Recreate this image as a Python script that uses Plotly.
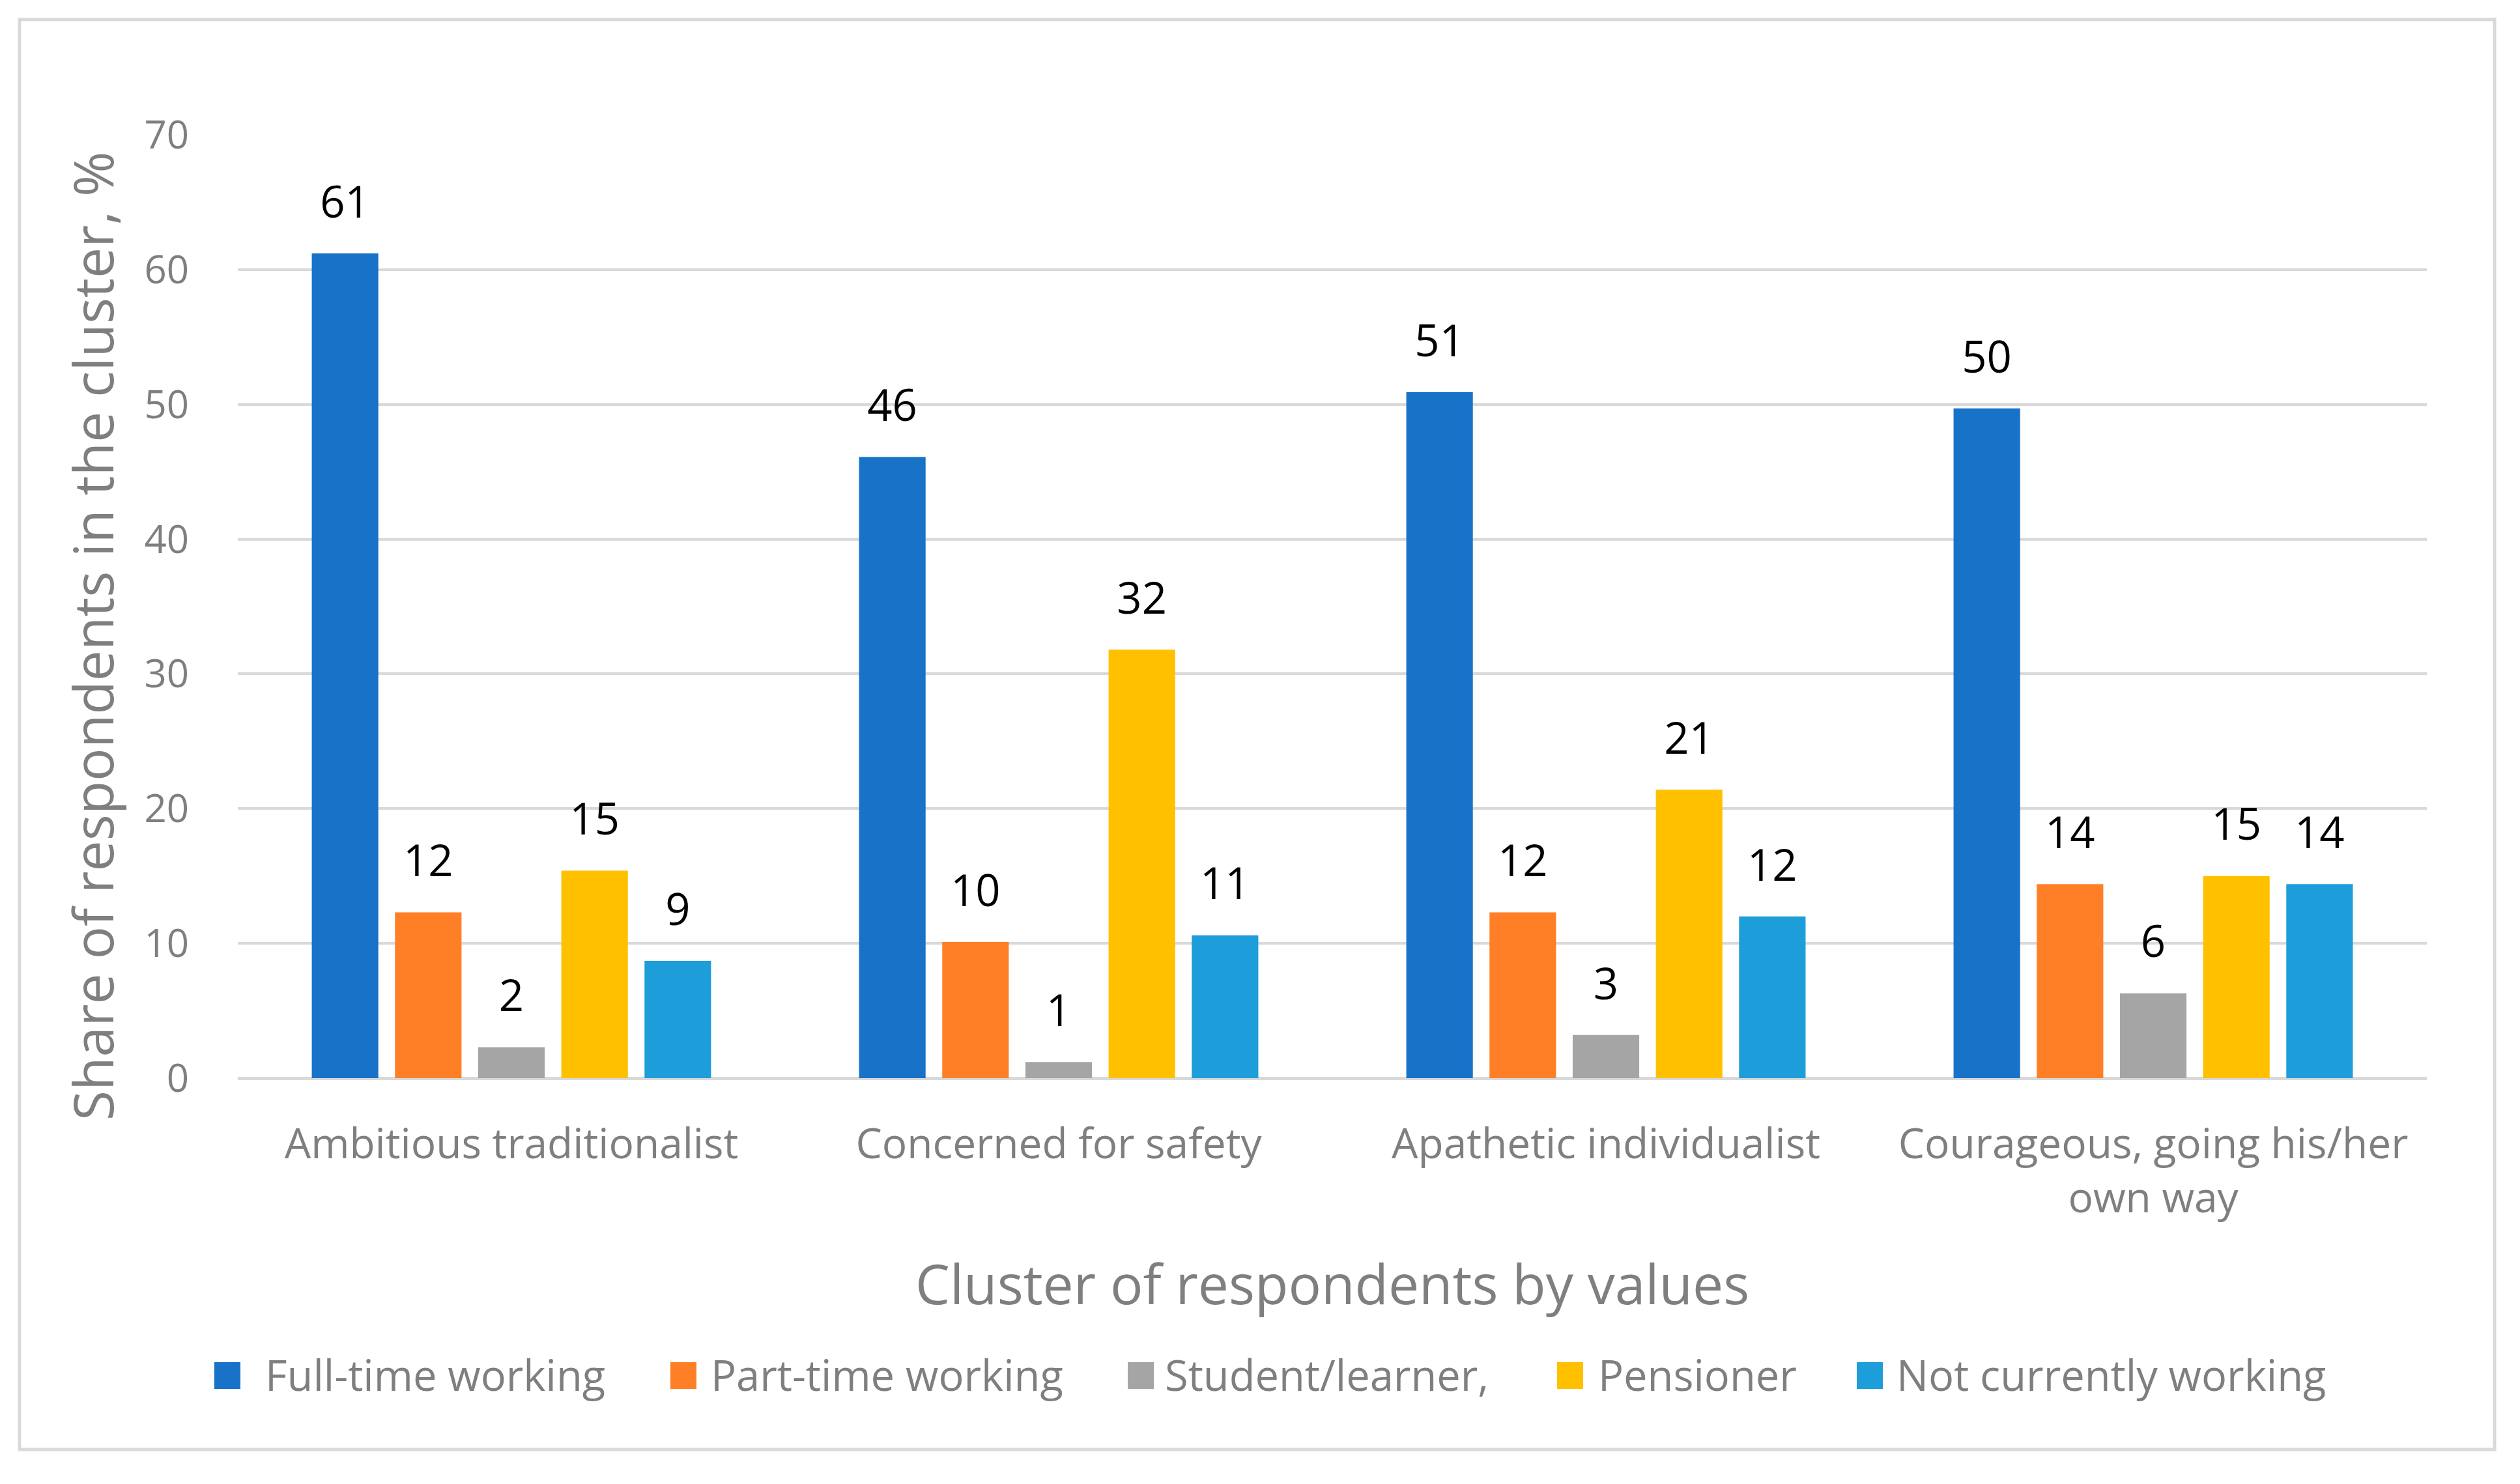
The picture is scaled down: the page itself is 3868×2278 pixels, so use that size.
import plotly.graph_objects as go

categories = ["Ambitious traditionalist", "Concerned for safety",
              "Apathetic individualist", "Courageous, going his/her<br>own way"]
series_names = ["Full-time working", "Part-time working", "Student/learner,",
                "Pensioner", "Not currently working"]
full_time = [61.2, 46.1, 50.9, 49.7]
part_time = [12.3, 10.1, 12.3, 14.4]
student = [2.3, 1.2, 3.2, 6.3]
pensioner = [15.4, 31.8, 21.4, 15.0]
not_working = [8.7, 10.6, 12.0, 14.4]
series_values = [full_time, part_time, student, pensioner, not_working]
colors = ["#1772C8", "#FF7F27", "#A5A5A5", "#FFC000", "#1D9DD9"]
y_ticks = [0, 10, 20, 30, 40, 50, 60, 70]

# layout (pixel positions of the figure elements)
W, H = 3868, 2278
L, R, T, B = 365, 143, 207, 623
PW, PH = W - L - R, H - T - B
legend_square_x = [329, 1029, 1731, 2390, 2850]
legend_text_x = [408, 1092, 1789, 2454, 2912]
legend_sq_top, legend_sq_bottom = 2091, 2132

FONT = "Open Sans"
GRAY = "#7F7F7F"

fig = go.Figure()
for name, vals, col in zip(series_names, series_values, colors):
    fig.add_trace(go.Bar(name=name, x=categories, y=vals, marker_color=col,
                         marker_line_width=0, hoverinfo="skip", showlegend=False))
for name, vals, col in zip(series_names, series_values, colors):
    fig.add_trace(go.Scatter(x=categories, y=vals, mode="markers+text",
                             texttemplate="%{y:.0f}", textposition="top center",
                             textfont=dict(family=FONT, size=67, color="#000000"),
                             marker=dict(size=60, color="rgba(0,0,0,0)"),
                             showlegend=False, hoverinfo="skip", cliponaxis=False))


def px2paper_x(px):
    return (px - L) / PW


def px2paper_y(py):
    return (H - py - B) / PH


annotations = [
    dict(text="Share of respondents in the cluster, %", textangle=-90,
         xref="paper", yref="paper", x=px2paper_x(141), y=px2paper_y(977),
         xanchor="center", yanchor="middle", showarrow=False,
         font=dict(family=FONT, size=84, color=GRAY)),
    dict(text="Cluster of respondents by values",
         xref="paper", yref="paper", x=0.5, y=px2paper_y(1969),
         xanchor="center", yanchor="middle", showarrow=False,
         font=dict(family=FONT, size=84, color=GRAY)),
]
shapes = [dict(type="rect", xref="paper", yref="paper",
               x0=px2paper_x(30), x1=px2paper_x(3829),
               y0=px2paper_y(2225), y1=px2paper_y(30),
               line=dict(color="#D9D9D9", width=5), layer="below")]

# legend built from the series names and colours
for name, col, sx, tx in zip(series_names, colors, legend_square_x, legend_text_x):
    shapes.append(dict(type="rect", xref="paper", yref="paper",
                       x0=px2paper_x(sx), x1=px2paper_x(sx + 40),
                       y0=px2paper_y(legend_sq_bottom), y1=px2paper_y(legend_sq_top),
                       fillcolor=col, line_width=0))
    annotations.append(dict(text=name, xref="paper", yref="paper",
                            x=px2paper_x(tx), y=px2paper_y(2110),
                            xanchor="left", yanchor="middle", showarrow=False,
                            xshift=-3,
                            font=dict(family=FONT, size=65, color=GRAY)))

fig.update_layout(
    width=W, height=H,
    margin=dict(l=L, r=R, t=T, b=B),
    paper_bgcolor="white", plot_bgcolor="white",
    barmode="group", bargap=0.24, bargroupgap=0.2,
    scattermode="group", scattergap=0.24,
    font=dict(family=FONT, color=GRAY),
    showlegend=False,
    xaxis=dict(type="category", showgrid=False, showline=False, zeroline=False,
               ticks="outside", ticklen=45, tickcolor="rgba(0,0,0,0)",
               tickfont=dict(family=FONT, size=64, color=GRAY)),
    yaxis=dict(range=[0, 70], tickvals=y_ticks, showgrid=True,
               gridcolor="#D9D9D9", gridwidth=4, zeroline=True,
               zerolinecolor="#D9D9D9", zerolinewidth=5, showline=False,
               ticks="outside", ticklen=62, tickcolor="rgba(0,0,0,0)",
               tickfont=dict(family=FONT, size=60, color=GRAY)),
    annotations=annotations,
    shapes=shapes,
)

fig.write_html("out.html", config={"displayModeBar": False},
               post_script="document.body.style.margin='0px';")
